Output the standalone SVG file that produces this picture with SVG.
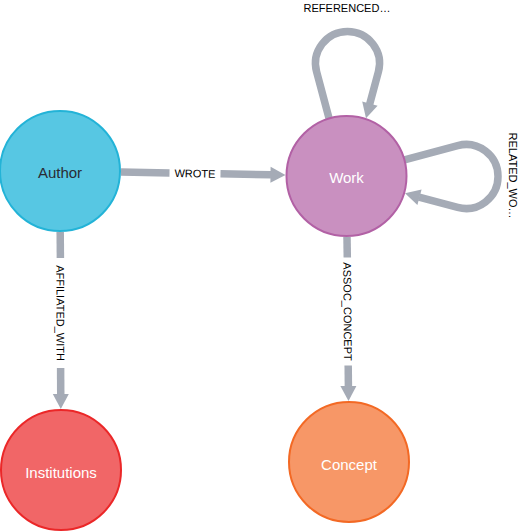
<svg xmlns="http://www.w3.org/2000/svg" width="522" height="531" viewBox="0 0 522 531">
<style>
.edge{stroke:#A5ABB6;stroke-width:7.5;fill:none;stroke-linecap:butt}
.head{fill:#A5ABB6}
.elabel{font-family:"Liberation Sans",Arial,sans-serif;font-size:11px;fill:#000000;text-anchor:middle;dominant-baseline:central}
.nlabel{font-family:"Liberation Sans",Arial,sans-serif;font-size:15px;text-anchor:middle}
.node circle{stroke-width:2}
</style>
<rect width="522" height="531" fill="#ffffff"/>
<g id="connectors">
  <g id="e-wrote">
    <line class="edge" x1="121" y1="172.1" x2="169.5" y2="172.9"/>
    <line class="edge" x1="220.5" y1="173.8" x2="271" y2="174.7"/>
    <polygon class="head" points="285.5,175 270.6,166.7 270.4,182.7"/>
    <text class="elabel" transform="translate(195,173.4) rotate(1)">WROTE</text>
  </g>
  <g id="e-affiliated">
    <line class="edge" x1="60.2" y1="232" x2="60.4" y2="258"/>
    <line class="edge" x1="60.6" y1="368" x2="60.75" y2="394.5"/>
    <polygon class="head" points="60.8,409 52.8,394 68.8,394"/>
    <text class="elabel" transform="translate(60.5,313) rotate(89.8)">AFFILIATED_WITH</text>
  </g>
  <g id="e-assoc">
    <line class="edge" x1="347" y1="237" x2="347.3" y2="257.5"/>
    <line class="edge" x1="348.2" y1="365.5" x2="348.4" y2="386.5"/>
    <polygon class="head" points="348.5,401 340.4,386 356.4,386"/>
    <text class="elabel" transform="translate(347.7,311.5) rotate(89.5)">ASSOC_CONCEPT</text>
  </g>
  <g id="e-referenced">
    <path class="edge" d="M329.5,120 L316.6,71.8 A32,32 0 1 1 378.4,71.8 L369.6,104.5"/>
    <polygon class="head" points="366,118.2 377.6,105.8 362.2,101.6"/>
    <text class="elabel" x="347" y="8">REFERENCED…</text>
  </g>
  <g id="e-related">
    <path class="edge" d="M402.6,160.4 L457.7,145.6 A32,32 0 1 1 457.7,207.4 L419,197.1"/>
    <polygon class="head" points="405,193.3 421.6,189.5 417.4,204.9"/>
    <text class="elabel" transform="translate(513,175.5) rotate(90)">RELATED_WO…</text>
  </g>
</g>
<g id="node-author" class="node">
  <circle cx="60" cy="171" r="60" fill="#57C7E3" stroke="#23B3D7"/>
  <text class="nlabel" x="60" y="178" fill="#2A2C34">Author</text>
</g>
<g id="node-work" class="node">
  <circle cx="346.5" cy="176" r="60" fill="#C990C0" stroke="#B261A5"/>
  <text class="nlabel" x="346.5" y="183" fill="#FFFFFF">Work</text>
</g>
<g id="node-institutions" class="node">
  <circle cx="61" cy="470" r="60" fill="#F16667" stroke="#EB2728"/>
  <text class="nlabel" x="61" y="477.5" fill="#FFFFFF">Institutions</text>
</g>
<g id="node-concept" class="node">
  <circle cx="349" cy="462" r="60" fill="#F79767" stroke="#F36924"/>
  <text class="nlabel" x="349" y="469.5" fill="#FFFFFF">Concept</text>
</g>
</svg>
